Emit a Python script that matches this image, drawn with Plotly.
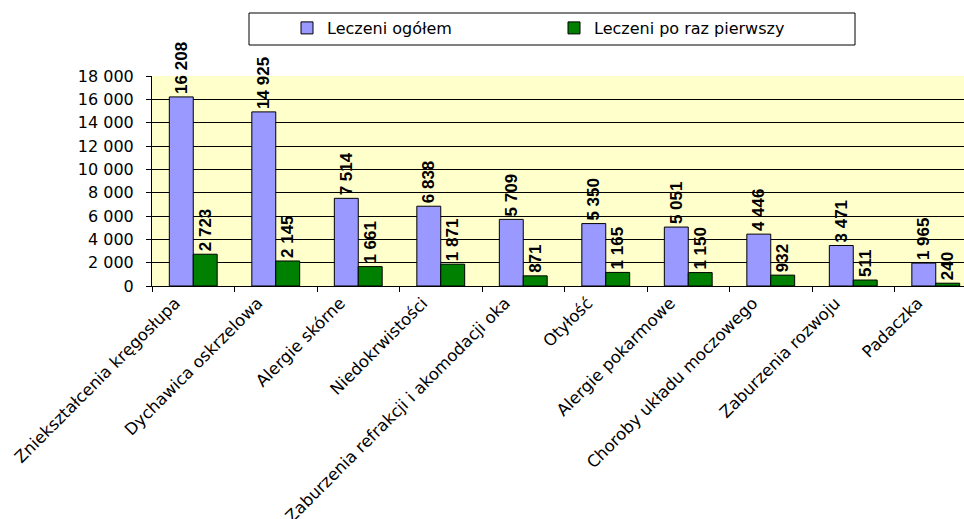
import plotly.graph_objects as go

categories = ["Zniekształcenia kręgosłupa", "Dychawica oskrzelowa", "Alergie skórne",
              "Niedokrwistości", "Zaburzenia refrakcji i akomodacji oka", "Otyłość",
              "Alergie pokarmowe", "Choroby układu moczowego", "Zaburzenia rozwoju", "Padaczka"]
total = [16208, 14925, 7514, 6838, 5709, 5350, 5051, 4446, 3471, 1965]
first = [2723, 2145, 1661, 1871, 871, 1165, 1150, 932, 511, 240]
series_names = ["Leczeni ogółem", "Leczeni po raz pierwszy"]
y_ticks = list(range(0, 18001, 2000))


def fmt(v):
    return f"{v:,}".replace(",", " ")


W, H = 964, 519
L, R, T, B = 152, 0, 76, 233
PW, PH = W - L - R, H - T - B

fig = go.Figure()
for name, vals, col in [(series_names[0], total, "#9999FF"), (series_names[1], first, "#008000")]:
    fig.add_trace(go.Bar(
        x=categories, y=vals, name=name,
        marker=dict(color=col, line=dict(color="black", width=1)),
        text=[fmt(v) for v in vals], textposition="outside", textangle=-90,
        textfont=dict(family="Liberation Sans, Arial", size=17, color="black", weight="bold"),
        constraintext="none", cliponaxis=False,
    ))

fig.update_layout(
    width=W, height=H,
    margin=dict(l=L, r=R, t=T, b=B, pad=0, autoexpand=False),
    paper_bgcolor="white", plot_bgcolor="#FFFFCC",
    barmode="group", bargap=0.42, bargroupgap=0,
    font=dict(family="DejaVu Sans", size=16, color="black"),
    legend=dict(orientation="h", xref="container", yref="container",
                x=287 / W, xanchor="left",
                y=1 - 11 / H, yanchor="top",
                bgcolor="rgba(0,0,0,0)", borderwidth=0,
                entrywidth=222, entrywidthmode="pixels",
                font=dict(family="DejaVu Sans", size=16)),
    shapes=[dict(type="rect", xref="paper", yref="paper",
                 x0=(249 - L) / PW, x1=(855 - L) / PW,
                 y0=1 + (T - 45) / PH, y1=1 + (T - 13) / PH,
                 line=dict(color="black", width=1), fillcolor="white", layer="below")],
)
fig.update_xaxes(range=[-0.5, PW / 82.5 - 0.5], showline=True, linecolor="black",
                 ticks="outside", tickson="boundaries", ticklen=5, tickcolor="black",
                 tickangle=-45, ticklabelshift=-18, showgrid=False, automargin=False,
                 tickfont=dict(family="DejaVu Sans", size=16.5))
fig.update_yaxes(range=[0, 18000], tickvals=y_ticks, ticktext=[fmt(v) for v in y_ticks],
                 showline=True, linecolor="black", ticks="outside", ticklen=5,
                 tickcolor="black", showgrid=True, gridcolor="black", gridwidth=1,
                 ticklabelstandoff=9,
                 zeroline=False, automargin=False, tickfont=dict(family="DejaVu Sans", size=16))

fig.write_html("out.html", config={"displayModeBar": False},
               post_script="document.body.style.margin='0';document.body.style.overflow='hidden';")
